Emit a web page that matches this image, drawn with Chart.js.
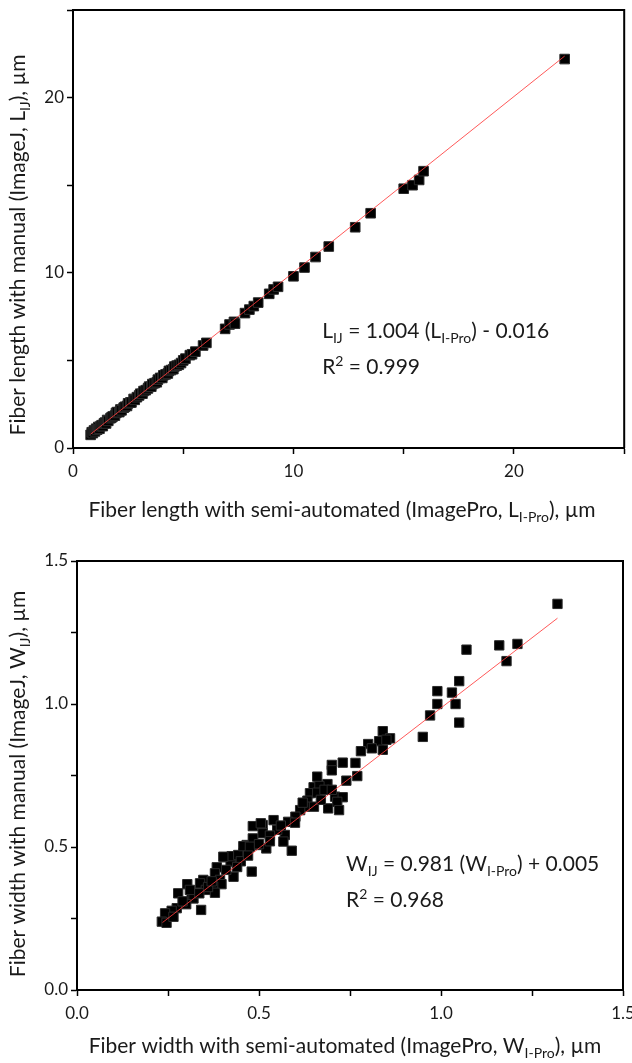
<!DOCTYPE html>
<html>
<head>
<meta charset="utf-8">
<script src="https://cdn.jsdelivr.net/npm/chart.js@4.4.1/dist/chart.umd.min.js"></script>
<style>
  body { margin: 0; background: #fff; }
  #wrap { position: relative; width: 632px; height: 1063px; }
  canvas { position: absolute; left: 0; }
  #lengthChart { top: 0; }
  #widthChart { top: 530px; }
</style>
</head>
<body>
<div id="wrap">
  <canvas id="lengthChart" width="632" height="530"></canvas>
  <canvas id="widthChart" width="632" height="533"></canvas>
</div>
<script>
// fiber length, semi-automated (ImagePro) vs manual (ImageJ), um
const lengthSemi = [0.8, 0.85, 0.9, 0.95, 1.0, 1.05, 1.1, 1.15, 1.2, 1.25, 1.3, 1.35, 1.4, 1.45, 1.5, 1.55, 1.6, 1.7, 1.75, 1.8,
  1.9, 1.95, 2.0, 2.1, 2.15, 2.2, 2.3, 2.35, 2.45, 2.5, 2.6, 2.65, 2.75, 2.8, 2.9, 3.0, 3.05, 3.15, 3.2, 3.3,
  3.4, 3.45, 3.55, 3.6, 3.7, 3.8, 3.85, 3.95, 4.05, 4.1, 4.2, 4.3, 4.35, 4.45, 4.55, 4.6, 4.7, 4.8, 4.9, 5.0,
  5.1, 5.3, 5.4, 5.55, 5.9, 6.05, 6.9, 7.1, 7.3, 7.35, 7.8, 8.0, 8.2, 8.4, 8.9, 9.1, 9.3, 10.0, 10.5, 11.0,
  11.6, 12.8, 13.5, 15.0, 15.4, 15.7, 15.9, 22.3];
const lengthManual = [0.75, 0.9, 0.85, 1.0, 0.95, 1.1, 1.05, 1.2, 1.1, 1.25, 1.3, 1.25, 1.4, 1.45, 1.4, 1.6, 1.55, 1.7, 1.75, 1.8,
  1.85, 2.0, 2.05, 2.05, 2.2, 2.15, 2.3, 2.35, 2.4, 2.55, 2.6, 2.6, 2.8, 2.75, 2.9, 3.0, 3.1, 3.1, 3.25, 3.3,
  3.4, 3.5, 3.5, 3.65, 3.7, 3.75, 3.9, 4.0, 4.0, 4.15, 4.2, 4.25, 4.4, 4.45, 4.5, 4.65, 4.7, 4.75, 4.85, 5.0,
  5.1, 5.3, 5.35, 5.5, 5.85, 6.0, 6.8, 7.05, 7.2, 7.1, 7.7, 7.9, 8.1, 8.3, 8.8, 9.05, 9.2, 9.8, 10.3, 10.9,
  11.5, 12.6, 13.4, 14.8, 15.0, 15.3, 15.8, 22.2];
const lengthFitX = [0.8, 22.3];
const lengthFitY = [0.79, 22.37];
const lengthTicks = [0, 10, 20];

// fiber width, semi-automated (ImagePro) vs manual (ImageJ), um
const widthSemi = [1.32, 1.21, 1.16, 1.18, 1.07, 1.05, 1.03, 0.99, 0.99, 1.04, 0.97, 1.05, 0.95, 0.84, 0.86, 0.83, 0.84, 0.85,
  0.80, 0.81, 0.78, 0.765, 0.73, 0.70, 0.70, 0.77, 0.74, 0.688, 0.66, 0.65, 0.666, 0.64, 0.633, 0.626, 0.651, 0.613,
  0.709, 0.73, 0.715, 0.69, 0.72, 0.60, 0.54, 0.58, 0.599, 0.51, 0.483, 0.505, 0.51, 0.571, 0.567, 0.59, 0.52, 0.494,
  0.466, 0.484, 0.483, 0.457, 0.439, 0.407, 0.422, 0.425, 0.443, 0.48, 0.43, 0.384, 0.379, 0.393, 0.397, 0.374, 0.347,
  0.338, 0.354, 0.379, 0.303, 0.278, 0.315, 0.32, 0.341, 0.274, 0.26, 0.242, 0.233, 0.246, 0.265, 0.336, 0.457, 0.475,
  0.402, 0.55, 0.53, 0.56, 0.62, 0.66, 0.68, 0.70, 0.67, 0.36, 0.30, 0.29, 0.45, 0.47, 0.50, 0.53, 0.44, 0.41, 0.37, 0.31];
const widthManual = [1.35, 1.21, 1.205, 1.15, 1.19, 1.08, 1.04, 1.045, 1.0, 1.0, 0.96, 0.935, 0.885, 0.905, 0.88, 0.87, 0.84, 0.875,
  0.86, 0.845, 0.835, 0.794, 0.795, 0.787, 0.768, 0.748, 0.732, 0.72, 0.746, 0.709, 0.713, 0.688, 0.662, 0.641, 0.641, 0.629,
  0.676, 0.674, 0.658, 0.635, 0.629, 0.606, 0.594, 0.588, 0.585, 0.577, 0.573, 0.583, 0.548, 0.542, 0.519, 0.487, 0.495, 0.507,
  0.507, 0.524, 0.53, 0.478, 0.46, 0.464, 0.449, 0.468, 0.472, 0.414, 0.396, 0.429, 0.408, 0.385, 0.37, 0.361, 0.385,
  0.373, 0.35, 0.34, 0.37, 0.338, 0.332, 0.32, 0.28, 0.286, 0.277, 0.268, 0.239, 0.235, 0.256, 0.338, 0.503, 0.501,
  0.466, 0.56, 0.54, 0.575, 0.655, 0.69, 0.70, 0.70, 0.665, 0.36, 0.30, 0.31, 0.45, 0.47, 0.51, 0.52, 0.43, 0.42, 0.38, 0.35];
const widthFitX = [0.235, 1.32];
const widthFitY = [0.236, 1.30];
const widthTicks = [0.0, 0.5, 1.0, 1.5];

const FONT = 'Lato, "Open Sans", sans-serif';
const TXT = '#1a1a1a';
const TITLE_SIZE = 21;
const NOTE_SIZE = 21;

const toPoints = (xs, ys) => xs.map((x, i) => ({ x: x, y: ys[i] }));

// text made of parts: sub:true for subscripts, sup:true for superscripts
const partSize = (p, size) => (p.sub || p.sup ? Math.round(size * 0.65) : size);
const partShift = (p, size) => (p.sub ? size * 0.25 : p.sup ? -size * 0.38 : 0);

const richWidth = (ctx, parts, size) => {
  let w = 0;
  parts.forEach((p) => {
    ctx.font = `${partSize(p, size)}px ${FONT}`;
    w += ctx.measureText(p.t).width;
  });
  return w;
};

const drawRich = (ctx, parts, x, y, size) => {
  let cx = x;
  parts.forEach((p) => {
    ctx.font = `${partSize(p, size)}px ${FONT}`;
    ctx.fillText(p.t, cx, y + partShift(p, size));
    cx += ctx.measureText(p.t).width;
  });
};

const decor = {
  id: 'decor',
  afterDraw(chart, args, o) {
    const { ctx, chartArea: a } = chart;
    ctx.save();
    // top and right frame
    ctx.strokeStyle = '#000';
    ctx.lineWidth = 2;
    ctx.beginPath();
    ctx.moveTo(a.left - 1, a.top);
    ctx.lineTo(a.right, a.top);
    ctx.lineTo(a.right, a.bottom);
    ctx.stroke();

    ctx.fillStyle = TXT;
    ctx.textBaseline = 'alphabetic';
    ctx.textAlign = 'left';

    // x title
    const xw = richWidth(ctx, o.xTitle, TITLE_SIZE);
    drawRich(ctx, o.xTitle, o.xTitleX - xw / 2, o.xTitleY, TITLE_SIZE);

    // y title, rotated
    const yw = richWidth(ctx, o.yTitle, TITLE_SIZE);
    ctx.save();
    ctx.translate(o.yTitleX, o.yTitleY);
    ctx.rotate(-Math.PI / 2);
    drawRich(ctx, o.yTitle, -yw / 2, 0, TITLE_SIZE);
    ctx.restore();

    // fit equation
    const nx = chart.scales.x.getPixelForValue(o.noteAt[0]);
    const ny = chart.scales.y.getPixelForValue(o.noteAt[1]);
    drawRich(ctx, o.note1, nx, ny, NOTE_SIZE);
    drawRich(ctx, o.note2, nx, ny + 36, NOTE_SIZE);
    ctx.restore();
  }
};

const makeChart = (el, cfg) => {
  const isMajor = (v) => cfg.major.some((m) => Math.abs(m - v) < 1e-9);
  const axis = (size) => ({
    type: 'linear',
    min: cfg.min,
    max: cfg.max,
    afterFit: (s) => {
      if (size.w) s.width = size.w;
      if (size.h) s.height = size.h;
      s.paddingLeft = 0; s.paddingRight = 0; s.paddingTop = 0; s.paddingBottom = 0;
    },
    ticks: {
      stepSize: cfg.step,
      autoSkip: false,
      maxRotation: 0,
      padding: size.pad,
      color: TXT,
      font: { family: FONT, size: 17 },
      callback: (v) => (isMajor(v) ? v.toFixed(cfg.digits) : '')
    },
    grid: {
      display: true,
      drawOnChartArea: false,
      drawTicks: true,
      tickLength: 6,
      tickColor: '#000',
      tickWidth: 1.5
    },
    border: { display: true, color: '#000', width: 2 }
  });

  return new Chart(el, {
    type: 'scatter',
    data: {
      datasets: [
        {
          data: toPoints(cfg.xs, cfg.ys),
          pointStyle: 'rect',
          pointRadius: cfg.radius,
          backgroundColor: '#000',
          borderColor: '#2a2a2a',
          borderWidth: 1,
          order: 1
        },
        {
          data: toPoints(cfg.fitX, cfg.fitY),
          showLine: true,
          pointRadius: 0,
          borderColor: 'rgba(255, 60, 60, 0.85)',
          borderWidth: 1,
          order: 0
        }
      ]
    },
    options: {
      responsive: false,
      animation: false,
      layout: { padding: cfg.padding },
      plugins: {
        legend: { display: false },
        tooltip: { enabled: false },
        decor: cfg.decor
      },
      scales: {
        x: axis({ h: cfg.xHeight, pad: 7 }),
        y: axis({ w: cfg.yWidth, pad: 3 })
      }
    },
    plugins: [decor]
  });
};

makeChart(document.getElementById('lengthChart'), {
  xs: lengthSemi, ys: lengthManual, fitX: lengthFitX, fitY: lengthFitY,
  min: 0, max: 25, step: 5, major: lengthTicks, digits: 0, radius: 6.8,
  padding: { top: 10, right: 1, left: 0, bottom: 0 },
  xHeight: 82, yWidth: 73,
  decor: {
    xTitle: [{ t: 'Fiber length with semi-automated (ImagePro, L' }, { t: 'I-Pro', sub: true }, { t: '), µm' }],
    xTitleX: 342, xTitleY: 517,
    yTitle: [{ t: 'Fiber length with manual (ImageJ, L' }, { t: 'IJ', sub: true }, { t: '), µm' }],
    yTitleX: 25, yTitleY: 245,
    note1: [{ t: 'L' }, { t: 'IJ', sub: true }, { t: ' = 1.004 (L' }, { t: 'I-Pro', sub: true }, { t: ') - 0.016' }],
    note2: [{ t: 'R' }, { t: '2', sup: true }, { t: ' = 0.999' }],
    noteAt: [11.3, 6.3]
  }
});

makeChart(document.getElementById('widthChart'), {
  xs: widthSemi, ys: widthManual, fitX: widthFitX, fitY: widthFitY,
  min: 0, max: 1.5, step: 0.25, major: widthTicks, digits: 1, radius: 6.6,
  padding: { top: 31, right: 9, left: 0, bottom: 0 },
  xHeight: 73, yWidth: 77,
  decor: {
    xTitle: [{ t: 'Fiber width with semi-automated (ImagePro, W' }, { t: 'I-Pro', sub: true }, { t: '), µm' }],
    xTitleX: 345, xTitleY: 523,
    yTitle: [{ t: 'Fiber width with manual (ImageJ, W' }, { t: 'IJ', sub: true }, { t: '), µm' }],
    yTitleX: 25, yTitleY: 254,
    note1: [{ t: 'W' }, { t: 'IJ', sub: true }, { t: ' = 0.981 (W' }, { t: 'I-Pro', sub: true }, { t: ') + 0.005' }],
    note2: [{ t: 'R' }, { t: '2', sup: true }, { t: ' = 0.968' }],
    noteAt: [0.739, 0.416]
  }
});
</script>
</body>
</html>
